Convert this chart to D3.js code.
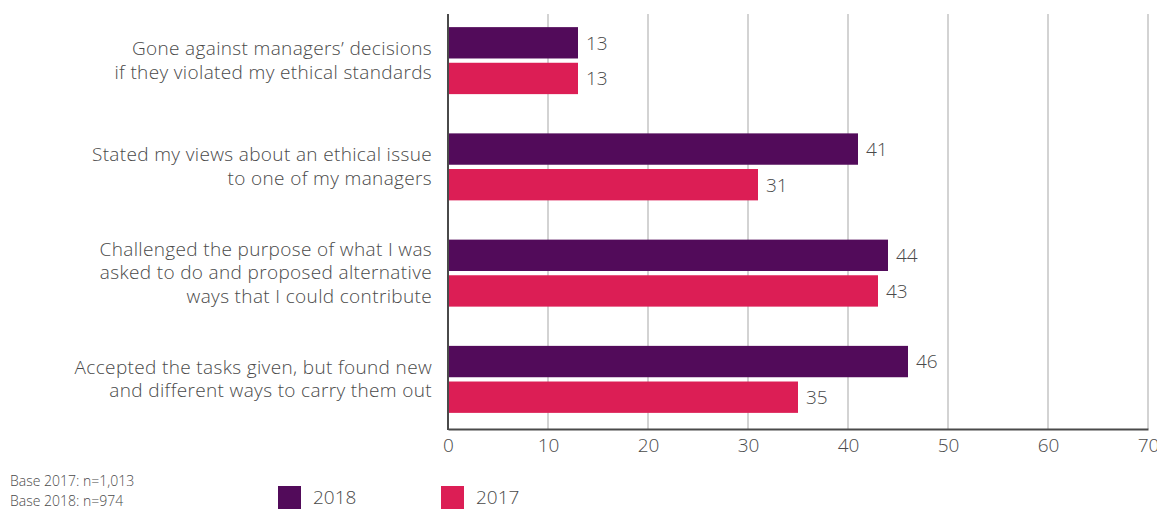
<!DOCTYPE html>
<html>
<head>
<meta charset="utf-8">
<script src="https://cdn.jsdelivr.net/npm/d3@7"></script>
<style>
  html, body { margin: 0; padding: 0; background: #fff; }
  svg { display: block; font-family: "Open Sans", "Noto Sans", sans-serif; }
</style>
</head>
<body>
<svg id="chart" width="1157" height="510"></svg>
<script>
// Survey responses, percent of respondents
const categories = [
  ["Gone against managers\u2019 decisions", "if they violated my ethical standards"],
  ["Stated my views about an ethical issue", "to one of my managers"],
  ["Challenged the purpose of what I was", "asked to do and proposed alternative", "ways that I could contribute"],
  ["Accepted the tasks given, but found new", "and different ways to carry them out"]
];
const values2018 = [13, 41, 44, 46];
const values2017 = [13, 31, 43, 35];
const seriesNames = ["2018", "2017"];
const xTicks = [0, 10, 20, 30, 40, 50, 60, 70];
const baseNotes = ["Base 2017: n=1,013", "Base 2018: n=974"];

const colors = { "2018": "#520b5a", "2017": "#dc1e55" };
const textColor = "#4a4a4a";

const svg = d3.select("#chart");
const x0 = 448, x1 = 1148, yTop = 14, yBottom = 429;

const x = d3.scaleLinear().domain([0, 70]).range([x0, x1]);
const y = d3.scaleBand().domain(d3.range(categories.length)).range([7, 432]).paddingInner(0).paddingOuter(0);
const inner = d3.scaleBand().domain(seriesNames).range([-33, 34]).paddingInner(0.12);

// vertical grid
svg.append("g")
  .selectAll("line")
  .data(xTicks.slice(1))
  .join("line")
  .attr("x1", d => x(d)).attr("x2", d => x(d))
  .attr("y1", yTop).attr("y2", yBottom)
  .attr("stroke", "#d3d3d3").attr("stroke-width", 2);

// bars
const groups = svg.append("g")
  .selectAll("g")
  .data(categories.map((c, i) => ({ i, vals: [values2018[i], values2017[i]] })))
  .join("g")
  .attr("transform", d => `translate(0,${y(d.i) + y.bandwidth() / 2})`);

groups.selectAll("rect")
  .data(d => d.vals.map((v, k) => ({ key: seriesNames[k], v })))
  .join("rect")
  .attr("x", x(0))
  .attr("y", d => inner(d.key))
  .attr("width", d => x(d.v) - x(0))
  .attr("height", inner.bandwidth())
  .attr("fill", d => colors[d.key]);

groups.selectAll("text.val")
  .data(d => d.vals.map((v, k) => ({ key: seriesNames[k], v })))
  .join("text")
  .attr("class", "val")
  .attr("x", d => x(d.v) + 8)
  .attr("y", d => inner(d.key) + inner.bandwidth() / 2)
  .attr("dy", "0.36em")
  .attr("font-size", 19)
  .attr("font-weight", 300)
  .attr("fill", textColor)
  .text(d => d.v);

// category labels
groups.append("text")
  .attr("text-anchor", "end")
  .attr("font-size", 19)
  .attr("font-weight", 300)
  .attr("letter-spacing", "0.35px")
  .attr("fill", textColor)
  .each(function (d) {
    const lines = categories[d.i];
    const lh = 23.5;
    const start = -(lines.length - 1) * lh / 2;
    d3.select(this).selectAll("tspan")
      .data(lines)
      .join("tspan")
      .attr("x", 432)
      .attr("y", (l, j) => start + j * lh)
      .attr("dy", "0.35em")
      .text(l => l);
  });

// axes
const xAxis = d3.axisBottom(x).tickValues(xTicks).tickSize(0).tickPadding(10);
const gx = svg.append("g").attr("transform", `translate(0,${yBottom})`).call(xAxis);
gx.select(".domain").attr("stroke", "#4a4a4a").attr("stroke-width", 2);
gx.selectAll("text")
  .attr("font-size", 19)
  .attr("font-weight", 300)
  .attr("fill", textColor)
  .attr("font-family", "\"Open Sans\", sans-serif");

svg.append("line")
  .attr("x1", x0).attr("x2", x0)
  .attr("y1", yTop).attr("y2", yBottom + 1)
  .attr("stroke", "#4a4a4a").attr("stroke-width", 2);

// base notes
svg.append("g")
  .selectAll("text")
  .data(baseNotes)
  .join("text")
  .attr("x", 10)
  .attr("y", (d, i) => 481 + i * 20)
  .attr("dy", "0.35em")
  .attr("font-size", 14)
  .attr("font-weight", 300)
  .attr("fill", textColor)
  .text(d => d);

// legend
const legendX = { "2018": 278, "2017": 441 };
const lg = svg.append("g")
  .selectAll("g")
  .data(seriesNames)
  .join("g")
  .attr("transform", d => `translate(${legendX[d]},486)`);
lg.append("rect").attr("width", 23).attr("height", 23).attr("fill", d => colors[d]);
lg.append("text")
  .attr("x", 35).attr("y", 11.5).attr("dy", "0.35em")
  .attr("font-size", 19).attr("font-weight", 300)
  .attr("fill", textColor)
  .text(d => d);
</script>
</body>
</html>
